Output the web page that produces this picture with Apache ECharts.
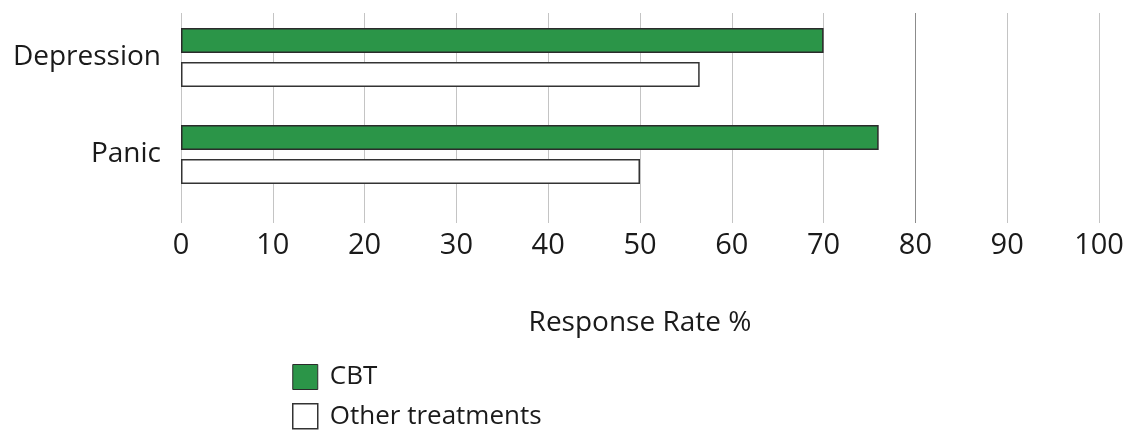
<!DOCTYPE html>
<html>
<head>
<meta charset="utf-8">
<style>
    html, body { margin: 0; padding: 0; background: #fff; }
    #main { width: 1128px; height: 430px; }
</style>
<script src="https://cdn.jsdelivr.net/npm/echarts@6/dist/echarts.min.js"></script>
</head>
<body>
<div id="main"></div>
<script>
//数据
var categories = ["Depression", "Panic"];
var seriesNames = ["CBT", "Other treatments"];
var cbtValues = [70, 76];
var otherValues = [56.5, 50];

var chart = echarts.init(document.getElementById("main"));

var font = "'Open Sans', 'Noto Sans', sans-serif";
var textColor = "#1a1a1a";

var option = {
    animation: false,
    textStyle: {
        fontFamily: font
    },
    //两个网格：一个画柱子，一个画网格线和刻度
    grid: [
        { left: 181, right: 29, top: 9, bottom: 227 },
        { left: 181, right: 29, top: 13, bottom: 207 }
    ],
    legend: {
        orient: "vertical",
        left: 292,
        top: 364,
        padding: 0,
        itemWidth: 25,
        itemHeight: 25,
        itemGap: 13,
        icon: "rect",
        textStyle: {
            fontFamily: font,
            fontSize: 26,
            color: textColor,
            padding: [0, 0, 0, 7]
        },
        data: [
            { name: seriesNames[0], itemStyle: { color: "#2b9548", borderColor: "#2b2b2b", borderWidth: 1 } },
            { name: seriesNames[1], itemStyle: { color: "#fff", borderColor: "#333", borderWidth: 1.5 } }
        ]
    },
    xAxis: [
        {
            gridIndex: 0,
            type: "value",
            min: 0,
            max: 100,
            interval: 10,
            show: false
        },
        {
            gridIndex: 1,
            type: "value",
            min: 0,
            max: 100,
            interval: 10,
            axisLine: { show: false },
            axisTick: { show: false },
            splitLine: {
                show: true,
                lineStyle: {
                    color: ["#c4c4c4", "#c4c4c4", "#c4c4c4", "#c4c4c4", "#c4c4c4",
                            "#c4c4c4", "#c4c4c4", "#c4c4c4", "#8c8c8c", "#c4c4c4", "#c4c4c4"],
                    width: 1
                }
            },
            axisLabel: {
                fontSize: 29,
                color: textColor,
                margin: 8
            },
            name: "Response Rate %",
            nameLocation: "middle",
            nameGap: 86,
            nameTextStyle: {
                fontSize: 28,
                color: textColor
            }
        }
    ],
    yAxis: [
        {
            gridIndex: 0,
            type: "category",
            inverse: true,
            data: categories,
            axisLine: { show: false },
            axisTick: { show: false },
            axisLabel: {
                fontSize: 28,
                color: textColor,
                margin: 20,
                padding: [0, 0, 10, 0]
            }
        },
        {
            gridIndex: 1,
            type: "value",
            show: false
        }
    ],
    series: [
        {
            name: seriesNames[0],
            type: "bar",
            xAxisIndex: 0,
            yAxisIndex: 0,
            barWidth: 25,
            barGap: "36%",
            itemStyle: {
                color: "#2b9548",
                borderColor: "#2b2b2b",
                borderWidth: 1.5
            },
            data: cbtValues
        },
        {
            name: seriesNames[1],
            type: "bar",
            xAxisIndex: 0,
            yAxisIndex: 0,
            barWidth: 25,
            barGap: "36%",
            itemStyle: {
                color: "#ffffff",
                borderColor: "#333333",
                borderWidth: 1.5
            },
            data: otherValues
        }
    ]
};

chart.setOption(option);

window.onresize = function() {
    chart.resize();
};
</script>
</body>
</html>
